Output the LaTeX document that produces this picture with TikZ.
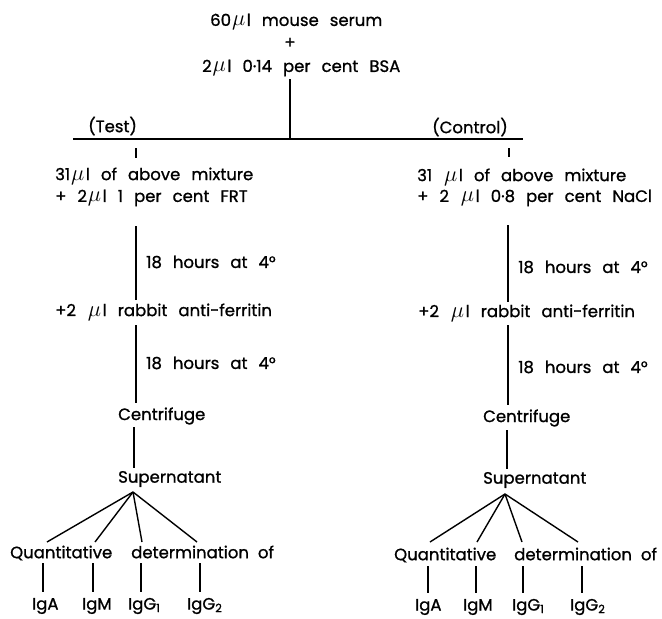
\documentclass[tikz,border=0pt]{standalone}
\usepackage{fontspec}
\setmainfont{Poppins}[WordSpace=2.5,FakeBold=1]
\newcommand{\mic}{\kern1pt\scalebox{1.3}{\ensuremath{\mu}}\kern1.5pt l}
\begin{document}
\begin{tikzpicture}[x=1pt,y=-1pt,
  txt/.style={inner sep=0pt, anchor=west, font=\fontsize{16.5}{20}\selectfont},
  ln/.style={line width=1.4pt}]
\useasboundingbox (0,0) rectangle (662,619);
% top
\node[txt] (top1) at (210,22) {60\mic{} mouse serum};
\node[txt,anchor=center] (plus) at (290,43) {+};
\node[txt] (top2) at (202,68) {2\mic{} 0·14 per cent BSA};
\coordinate (t0) at (290,79);
\coordinate (tm) at (290,139);
\coordinate (hl) at (73,139);
\coordinate (hr) at (523,139);
\draw[ln] (t0) -- (tm);
\draw[ln] (hl) -- (hr);
\node[txt] (test) at (88,126) {(Test)};
\node[txt] (control) at (432,127) {(Control)};
% left column
\coordinate (la) at (136,148); \coordinate (lb) at (136,158);
\draw[ln] (la) -- (lb);
\node[txt] (l1a) at (55,176) {31\mic{} of above mixture};
\node[txt] (l1b) at (55,198) {+ 2\mic{} 1 per cent FRT};
\coordinate (lc) at (136,226); \coordinate (ld) at (136,300);
\draw[ln] (lc) -- (ld);
\node[txt] (l2) at (146,262) {18 hours at 4°};
\node[txt] (l3) at (55,312) {+2 \mic{} rabbit anti-ferritin};
\coordinate (le) at (136,325); \coordinate (lf) at (136,403);
\draw[ln] (le) -- (lf);
\node[txt] (l4) at (146,363) {18 hours at 4°};
\node[txt] (l5) at (118,416) {Centrifuge};
\coordinate (lg) at (134,427); \coordinate (lh) at (134,468);
\draw[ln] (lg) -- (lh);
\node[txt] (l6) at (118,479) {Supernatant};
\coordinate (lap) at (133,492);
\foreach \x [count=\i] in {47,95,142,197} {
  \coordinate (lfe\i) at (\x,542);
  \draw[ln] (lap) -- (lfe\i);
}
\node[txt] (l7) at (10,553) {Quantitative\hspace{19pt}determination\hspace{9pt}of};
\foreach \x [count=\i] in {43,93,141,200} {
  \coordinate (lt\i) at (\x,563); \coordinate (lu\i) at (\x,592);
  \draw[ln] (lt\i) -- (lu\i);
}
\node[txt] (liga) at (32,606) {IgA};
\node[txt] (ligm) at (82,606) {IgM};
\node[txt] (ligg1) at (128,606) {IgG\textsubscript{1}};
\node[txt] (ligg2) at (187,606) {IgG\textsubscript{2}};
% right column
\coordinate (ra) at (509,148); \coordinate (rb) at (509,157);
\draw[ln] (ra) -- (rb);
\node[txt] (r1a) at (417,177) {31 \mic{} of above mixture};
\node[txt] (r1b) at (417,198) {+ 2 \mic{} 0·8 per cent NaCl};
\coordinate (rc) at (508,225); \coordinate (rd) at (508,302);
\draw[ln] (rc) -- (rd);
\node[txt] (r2) at (518,267) {18 hours at 4°};
\node[txt] (r3) at (418,313) {+2 \mic{} rabbit anti-ferritin};
\coordinate (re) at (508,325); \coordinate (rf) at (508,405);
\draw[ln] (re) -- (rf);
\node[txt] (r4) at (518,367) {18 hours at 4°};
\node[txt] (r5) at (483,418) {Centrifuge};
\coordinate (rg) at (507,430); \coordinate (rh) at (507,469);
\draw[ln] (rg) -- (rh);
\node[txt] (r6) at (483,480) {Supernatant};
\coordinate (rap) at (505,494);
\foreach \x [count=\i] in {430,477,522,578} {
  \coordinate (rfe\i) at (\x,542);
  \draw[ln] (rap) -- (rfe\i);
}
\node[txt] (r7) at (394,555) {Quantitative\hspace{18pt}determination\hspace{9pt}of};
\foreach \x [count=\i] in {428,476,523,582} {
  \coordinate (rt\i) at (\x,566); \coordinate (ru\i) at (\x,593);
  \draw[ln] (rt\i) -- (ru\i);
}
\node[txt] (riga) at (415,607) {IgA};
\node[txt] (rigm) at (463,607) {IgM};
\node[txt] (rigg1) at (512,607) {IgG\textsubscript{1}};
\node[txt] (rigg2) at (570,607) {IgG\textsubscript{2}};
\end{tikzpicture}
\end{document}
